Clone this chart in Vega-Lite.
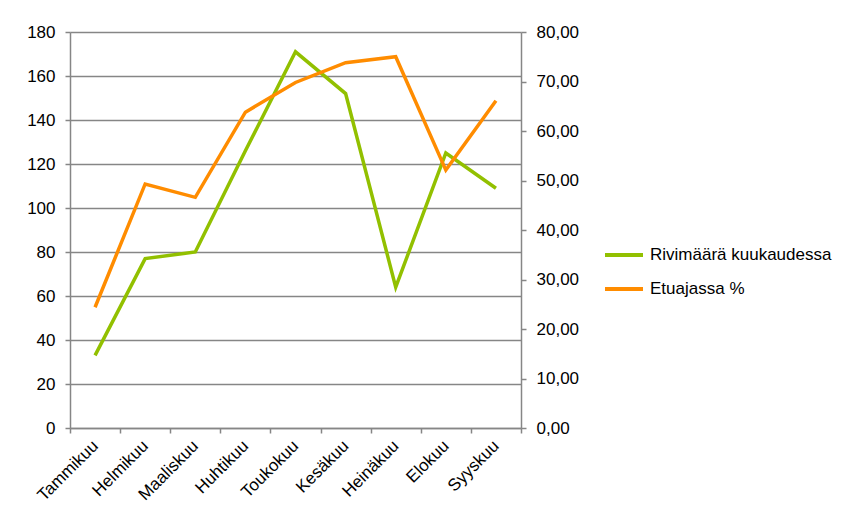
{
  "$schema": "https://vega.github.io/schema/vega-lite/v6.json",
  "width": 451,
  "height": 396,
  "autosize": {"type": "none"},
  "padding": {"left": 70, "top": 32, "right": 337, "bottom": 97},
  "background": "white",
  "config": {
    "font": "Liberation Sans",
    "view": {"stroke": null},
    "axis": {
      "labelFont": "Liberation Sans",
      "labelFontSize": 17,
      "labelColor": "#000000",
      "domainColor": "#868686",
      "tickColor": "#868686",
      "gridColor": "#868686",
      "gridOpacity": 1,
      "domainWidth": 1.5,
      "tickWidth": 1.5,
      "gridWidth": 1.5,
      "tickSize": 5,
      "title": null
    },
    "legend": {"labelFont": "Liberation Sans"}
  },
  "data": {
    "values": [
      {"month": "Tammikuu", "series": "Rivimäärä kuukaudessa", "value": 33},
      {"month": "Helmikuu", "series": "Rivimäärä kuukaudessa", "value": 77},
      {"month": "Maaliskuu", "series": "Rivimäärä kuukaudessa", "value": 80},
      {"month": "Huhtikuu", "series": "Rivimäärä kuukaudessa", "value": 126},
      {"month": "Toukokuu", "series": "Rivimäärä kuukaudessa", "value": 171},
      {"month": "Kesäkuu", "series": "Rivimäärä kuukaudessa", "value": 152},
      {"month": "Heinäkuu", "series": "Rivimäärä kuukaudessa", "value": 64},
      {"month": "Elokuu", "series": "Rivimäärä kuukaudessa", "value": 125},
      {"month": "Syyskuu", "series": "Rivimäärä kuukaudessa", "value": 109},
      {"month": "Tammikuu", "series": "Etuajassa %", "value": 24.4},
      {"month": "Helmikuu", "series": "Etuajassa %", "value": 49.3},
      {"month": "Maaliskuu", "series": "Etuajassa %", "value": 46.6},
      {"month": "Huhtikuu", "series": "Etuajassa %", "value": 63.8},
      {"month": "Toukokuu", "series": "Etuajassa %", "value": 69.8},
      {"month": "Kesäkuu", "series": "Etuajassa %", "value": 73.8},
      {"month": "Heinäkuu", "series": "Etuajassa %", "value": 75.0},
      {"month": "Elokuu", "series": "Etuajassa %", "value": 52.1},
      {"month": "Syyskuu", "series": "Etuajassa %", "value": 66.1}
    ]
  },
  "encoding": {
    "x": {
      "field": "month",
      "type": "ordinal",
      "sort": null,
      "scale": {"type": "band", "paddingInner": 0, "paddingOuter": 0},
      "axis": {
        "tickBand": "extent",
        "labelAngle": -45,
        "labelAlign": "right",
        "labelBaseline": "middle",
        "labelPadding": 10,
        "grid": false
      }
    },
    "color": {
      "field": "series",
      "type": "nominal",
      "scale": {
        "domain": ["Rivimäärä kuukaudessa", "Etuajassa %"],
        "range": ["#92C000", "#FF8C00"]
      },
      "legend": {
        "title": null,
        "orient": "none",
        "legendX": 533,
        "legendY": 202,
        "symbolType": "stroke",
        "symbolStrokeWidth": 4,
        "symbolSize": 1444,
        "labelFontSize": 17,
        "labelLimit": 0,
        "labelColor": "#000000",
        "labelOffset": 5,
        "rowPadding": 5
      }
    }
  },
  "layer": [
    {
      "transform": [{"filter": "datum.series === 'Rivimäärä kuukaudessa'"}],
      "mark": {"type": "line", "strokeWidth": 3.5},
      "encoding": {
        "y": {
          "field": "value",
          "type": "quantitative",
          "scale": {"domain": [0, 180], "nice": false},
          "axis": {
            "orient": "left",
            "values": [0, 20, 40, 60, 80, 100, 120, 140, 160, 180],
            "grid": true,
            "labelPadding": 10
          }
        }
      }
    },
    {
      "transform": [{"filter": "datum.series === 'Etuajassa %'"}],
      "mark": {"type": "line", "strokeWidth": 3.5},
      "encoding": {
        "y": {
          "field": "value",
          "type": "quantitative",
          "scale": {"domain": [0, 80], "nice": false},
          "axis": {
            "orient": "right",
            "values": [0, 10, 20, 30, 40, 50, 60, 70, 80],
            "grid": false,
            "labelPadding": 10,
            "labelExpr": "replace(format(datum.value, '.2f'), '.', ',')"
          }
        }
      }
    }
  ],
  "resolve": {"scale": {"y": "independent"}}
}
